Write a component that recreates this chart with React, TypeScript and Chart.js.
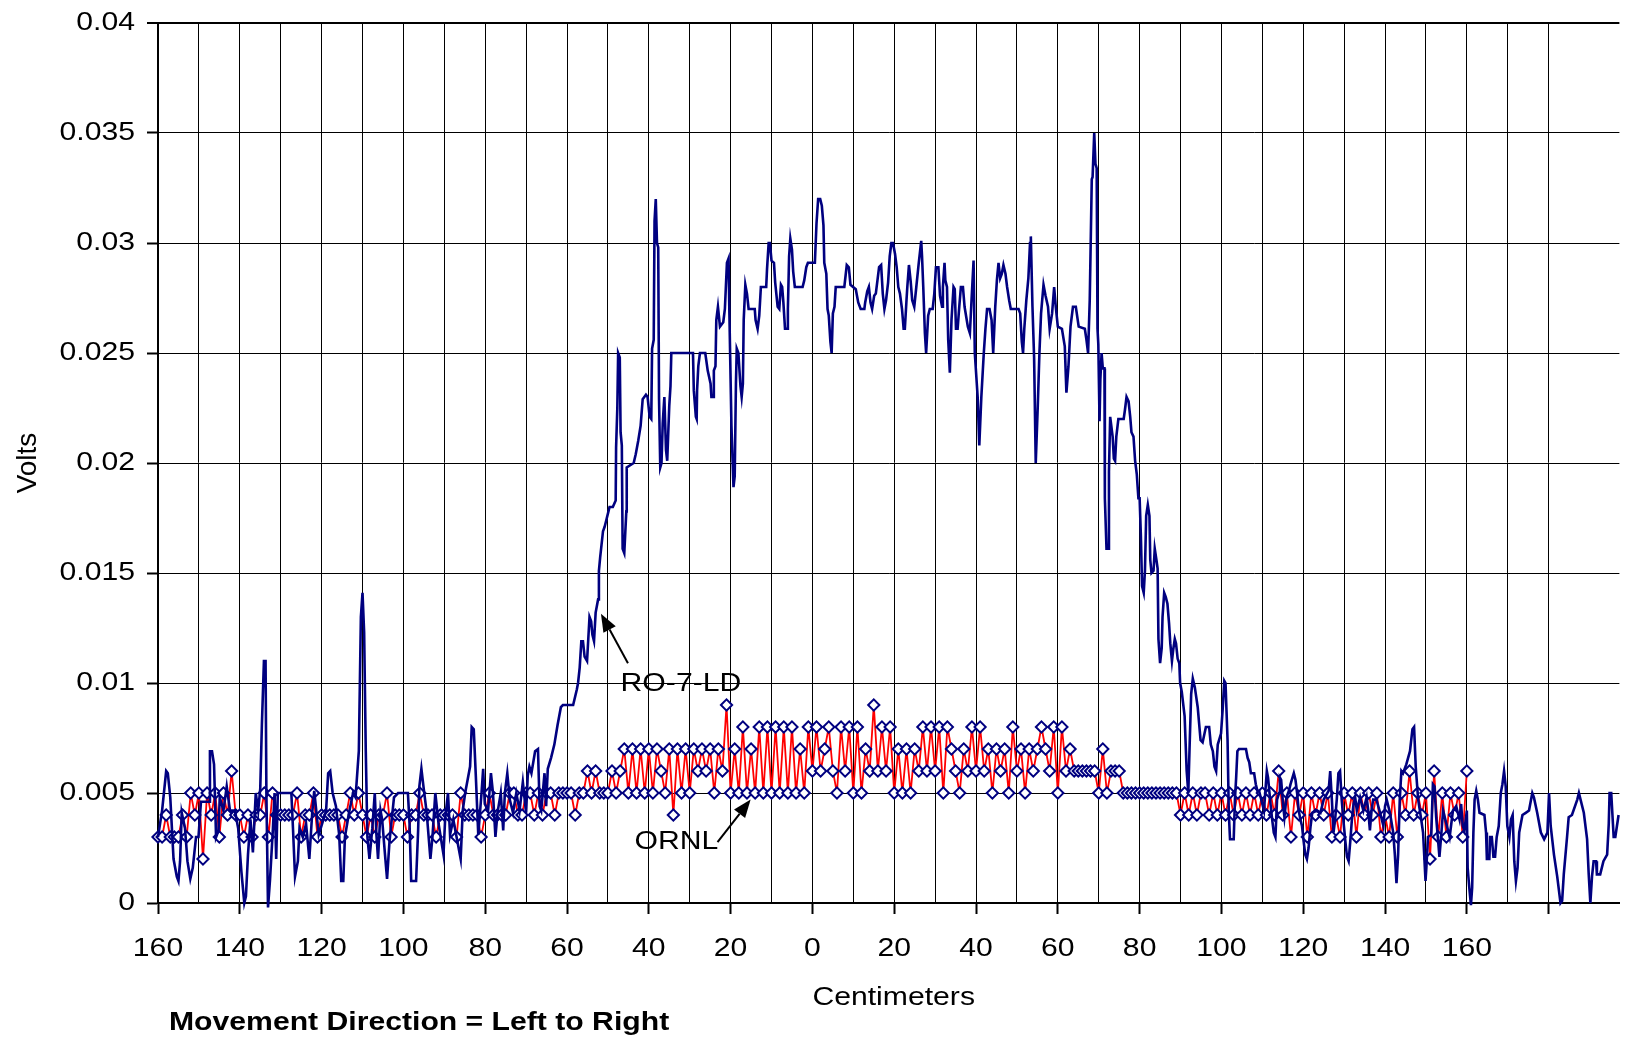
import { useEffect, useRef } from 'react';
import { Chart, registerables } from 'chart.js';

Chart.register(...registerables);

const FONT = '"Liberation Sans", Arial, Helvetica, sans-serif';
// the text in this figure is set slightly wide
const TEXT_STRETCH = 1.16;

// ORNL probe: one reading per centimetre, from -160 cm to +160 cm (values in mV)
const ornlStartCm = -160;
const ornlMv = [
  3, 3, 4, 3, 3, 3, 4, 3, 5, 4, 5, 2, 5, 4, 5, 3, 5, 4, 6, 4, // -160 .. -141
  4, 3, 4, 3, 4, 4, 5, 3, 5, 4, 4, 4, 4, 4, 5, 3, 4, 4, 5, 3, // -140 .. -121
  4, 4, 4, 4, 4, 3, 4, 5, 4, 5, 4, 3, 4, 3, 4, 4, 5, 3, 4, 4, // -120 .. -101
  4, 3, 4, 4, 5, 4, 4, 4, 3, 4, 4, 4, 4, 3, 5, 4, 4, 4, 4, 3, // -100 .. -81
  4, 5, 4, 4, 4, 4, 5, 5, 4, 4, 5, 5, 4, 5, 4, 5, 5, 4, 5, 5, // -80 .. -61
  5, 5, 4, 5, 5, 6, 5, 6, 5, 5, 5, 6, 5, 6, 7, 5, 7, 5, 7, 5, // -60 .. -41
  7, 5, 7, 6, 5, 7, 4, 7, 5, 7, 5, 7, 6, 7, 6, 7, 5, 7, 6, 9, // -40 .. -21
  5, 7, 5, 8, 5, 7, 5, 8, 5, 8, 5, 8, 5, 8, 5, 8, 5, 7, 5, 8, // -20 .. -1
  6, 8, 6, 7, 8, 6, 5, 8, 6, 8, 5, 8, 5, 7, 6, 9, 6, 8, 6, 8, // 0 .. 19
  5, 7, 5, 7, 5, 7, 6, 8, 6, 8, 6, 8, 5, 8, 7, 6, 5, 7, 6, 8, // 20 .. 39
  6, 8, 6, 7, 5, 7, 6, 7, 5, 8, 6, 7, 5, 7, 6, 7, 8, 7, 6, 8, // 40 .. 59
  5, 8, 6, 7, 6, 6, 6, 6, 6, 6, 5, 7, 5, 6, 6, 6, 5, 5, 5, 5, // 60 .. 79
  5, 5, 5, 5, 5, 5, 5, 5, 5, 5, 4, 5, 4, 5, 4, 5, 5, 4, 5, 4, // 80 .. 99
  5, 4, 5, 4, 5, 4, 5, 4, 5, 4, 5, 4, 5, 4, 6, 4, 5, 3, 5, 4, // 100 .. 119
  5, 3, 5, 4, 5, 4, 5, 3, 4, 3, 5, 4, 5, 3, 5, 4, 5, 4, 5, 3, // 120 .. 139
  4, 3, 5, 3, 5, 4, 6, 4, 5, 4, 5, 2, 6, 3, 5, 3, 5, 4, 5, 3, 6, // 140 .. 160
];

// RO-7-LD probe trace as [cm, mV] vertices
const ro7ldApproach: [number, number][] = [
  [-160.0, 3.0], [-159.0, 4.2], [-158.0, 6.0], [-157.6, 5.9], [-157.0, 4.8], [-156.2, 2.0], [-155.4, 1.2],
  [-155.0, 1.0], [-154.6, 1.9], [-154.2, 4.1], [-153.4, 3.4], [-152.8, 1.9], [-152.1, 1.1], [-151.5, 1.6],
  [-150.7, 3.0], [-150.1, 3.0], [-149.5, 4.6], [-147.4, 4.6], [-147.3, 6.9], [-146.8, 6.9], [-146.3, 6.3],
  [-145.8, 3.0], [-145.2, 3.3], [-144.9, 4.8], [-144.0, 4.2], [-143.2, 5.3], [-142.4, 4.2], [-141.2, 4.2],
  [-140.4, 3.4], [-139.6, 1.4], [-138.9, 0.0], [-138.5, 0.3], [-138.0, 2.2], [-137.4, 3.8], [-136.8, 2.3],
  [-136.1, 5.0], [-135.5, 4.2], [-135.0, 5.2], [-134.6, 8.1], [-134.1, 11.0], [-133.7, 11.0], [-133.5, 5.0],
  [-133.1, -0.2], [-132.6, 1.1], [-131.9, 3.4], [-131.5, 5.0], [-131.1, 2.0], [-130.7, 5.0], [-127.4, 5.0],
  [-127.0, 3.4], [-126.5, 1.2], [-125.8, 1.9], [-125.4, 3.4], [-124.6, 3.0], [-123.8, 3.6], [-123.0, 2.0],
  [-122.3, 4.1], [-121.8, 5.1], [-120.7, 3.1], [-120.2, 3.4], [-118.9, 4.2], [-118.4, 5.9], [-117.9, 6.0],
  [-117.3, 5.0], [-116.5, 4.4], [-115.7, 3.1], [-115.2, 1.0], [-114.7, 1.0], [-114.3, 3.0], [-113.3, 4.1],
  [-112.3, 5.0], [-111.7, 4.8], [-110.9, 6.9], [-110.4, 13.0], [-110.0, 14.1], [-109.6, 12.3], [-109.2, 6.9],
  [-108.8, 3.0], [-108.3, 2.0], [-107.6, 3.4], [-107.0, 5.0], [-106.6, 3.1], [-106.2, 2.0], [-105.6, 4.2],
  [-105.2, 3.8], [-104.5, 2.2], [-104.0, 1.1], [-103.4, 2.8], [-102.3, 4.8], [-101.3, 5.0], [-98.9, 5.0],
  [-98.5, 3.6], [-98.1, 1.0], [-96.9, 1.0], [-96.4, 3.3], [-96.1, 5.3], [-95.6, 6.1], [-95.1, 5.3],
  [-94.3, 4.1], [-93.4, 2.0], [-92.9, 3.0], [-92.2, 5.0], [-91.4, 3.6], [-90.2, 2.2], [-89.8, 3.8],
  [-89.1, 5.0], [-88.6, 3.1], [-87.8, 3.8], [-87.0, 3.0], [-86.0, 2.0], [-85.5, 4.2], [-84.9, 5.0],
  [-83.7, 6.2], [-83.3, 8.0], [-82.8, 7.9], [-82.3, 5.8], [-81.7, 3.1], [-80.9, 5.0], [-80.5, 6.1],
  [-80.1, 4.5], [-79.3, 4.2], [-78.6, 5.9], [-78.1, 5.0], [-77.5, 3.0], [-77.0, 4.1], [-76.2, 5.0],
  [-75.6, 3.3], [-75.2, 5.0], [-74.6, 5.9], [-74.0, 4.7], [-73.2, 4.1], [-72.4, 5.0], [-71.6, 4.2],
  [-70.8, 5.5], [-70.0, 4.1], [-69.6, 5.8], [-69.2, 6.2], [-68.7, 5.9], [-67.8, 6.9], [-67.1, 7.0],
  [-66.7, 4.4], [-66.3, 4.2], [-65.5, 5.9], [-65.1, 4.4], [-64.7, 6.1], [-63.9, 6.6], [-63.1, 7.2],
  [-62.3, 8.1], [-61.5, 8.9], [-61.0, 9.0], [-58.5, 9.0], [-57.6, 9.7], [-57.3, 10.0], [-56.9, 10.7],
  [-56.5, 11.9], [-56.1, 11.9], [-55.7, 11.2], [-55.1, 11.0], [-54.8, 12.0], [-54.5, 13.0], [-54.1, 12.8],
  [-53.8, 12.2], [-53.4, 11.9], [-53.0, 13.2], [-52.4, 13.8], [-52.2, 15.1], [-51.9, 15.7], [-51.2, 16.9],
  [-50.8, 17.1], [-50.4, 17.4], [-50.0, 17.7], [-49.6, 18.0], [-48.8, 18.0], [-48.1, 18.3], [-48.0, 20.7],
  [-47.7, 22.5], [-47.5, 25.0], [-47.1, 24.8], [-46.9, 21.4], [-46.6, 20.8], [-46.4, 16.1], [-46.0, 15.9],
  [-45.5, 17.8], [-45.4, 19.8],
];

const ro7ldPlateau: [number, number][] = [
  [-43.7, 20.0], [-43.2, 20.4], [-42.6, 21.0], [-42.0, 21.7], [-41.5, 22.9], [-40.7, 23.1], [-40.3, 23.0],
  [-39.8, 22.1], [-39.4, 22.0], [-39.2, 25.2], [-38.8, 25.6], [-38.6, 31.0], [-38.3, 32.0], [-38.0, 30.0],
  [-37.7, 29.8], [-37.5, 22.9], [-37.2, 19.8], [-36.9, 20.0], [-36.6, 21.8], [-36.2, 23.0], [-35.8, 20.6],
  [-35.5, 20.1], [-35.0, 22.6], [-34.7, 23.5], [-34.5, 25.0], [-29.2, 25.0], [-29.0, 23.3], [-28.5, 22.1],
  [-28.3, 22.0], [-28.2, 23.3], [-27.9, 24.4], [-27.5, 25.0], [-26.2, 25.0], [-25.6, 24.2], [-24.9, 23.6],
  [-24.7, 23.0], [-24.3, 23.0], [-24.1, 24.2], [-23.7, 24.4], [-23.5, 26.5], [-23.1, 27.1], [-22.6, 26.2],
  [-21.8, 26.4], [-21.4, 27.0], [-20.9, 29.1], [-20.5, 29.3], [-20.3, 26.8], [-19.8, 21.7], [-19.3, 18.9],
  [-19.0, 19.4], [-18.7, 23.6], [-18.5, 25.2], [-18.1, 25.0], [-17.6, 23.5], [-17.3, 23.0], [-17.0, 23.6],
  [-16.8, 26.5], [-16.4, 28.1], [-16.0, 27.7], [-15.6, 27.0], [-14.1, 27.0], [-13.9, 26.5], [-13.4, 26.1],
  [-13.0, 26.7], [-12.6, 28.0], [-11.3, 28.0], [-11.1, 28.8], [-10.7, 30.0], [-10.4, 30.0], [-10.0, 29.2],
  [-9.4, 29.1], [-9.1, 28.2], [-8.5, 27.1], [-8.1, 27.0], [-7.7, 28.1], [-7.4, 28.0], [-7.1, 27.3],
  [-6.7, 26.1], [-6.2, 26.1], [-6.0, 27.0], [-5.7, 29.4], [-5.4, 30.2], [-5.0, 29.7], [-4.7, 28.7],
  [-4.3, 28.0], [-2.4, 28.0], [-2.0, 28.3], [-1.5, 28.9], [-1.1, 29.1], [0.6, 29.1], [1.0, 30.9],
  [1.4, 32.0], [1.9, 32.0], [2.3, 31.7], [2.7, 30.8], [2.9, 29.1], [3.4, 28.6], [3.7, 27.0], [4.0, 26.7],
  [4.4, 25.5], [4.7, 25.0], [5.0, 26.8], [5.4, 27.1], [5.7, 28.0], [7.8, 28.0], [8.1, 28.5], [8.4, 29.0],
  [8.9, 28.9], [9.3, 28.1], [10.6, 27.9], [11.2, 27.3], [11.8, 27.0], [12.7, 27.0], [12.9, 27.3],
  [13.4, 27.8], [13.8, 28.0], [14.2, 27.3], [14.6, 27.0], [15.1, 27.6], [15.5, 27.7], [15.9, 28.3],
  [16.3, 28.9], [16.8, 29.0], [17.2, 27.7], [17.6, 27.0], [18.0, 27.4], [18.5, 28.2], [18.9, 29.4],
  [19.3, 30.0], [19.7, 30.0], [20.2, 29.5], [20.6, 28.9], [21.0, 28.0], [21.4, 27.7], [21.9, 27.0],
  [22.3, 26.1], [22.6, 26.1], [23.0, 27.4], [23.2, 28.0], [23.6, 29.0], [24.0, 28.3], [24.4, 27.4],
  [24.9, 27.1], [25.4, 28.0], [26.0, 29.1], [26.6, 30.1], [26.8, 29.4], [27.1, 28.0], [27.5, 25.9],
  [27.8, 25.0], [28.3, 26.7], [28.7, 27.0], [29.4, 27.0], [29.8, 27.7], [30.2, 28.9], [30.8, 28.9],
  [31.2, 27.6], [31.7, 27.1], [31.9, 28.0], [32.3, 29.1], [32.5, 28.3], [32.9, 28.0], [33.2, 25.6],
  [33.6, 24.1], [34.0, 26.5], [34.5, 28.0], [34.8, 27.9], [35.1, 26.1], [35.5, 26.1], [35.9, 27.1],
  [36.3, 28.0], [36.8, 28.0], [37.2, 27.1], [38.0, 26.2], [38.5, 25.9], [38.9, 27.4], [39.4, 29.2],
  [39.7, 25.0], [40.4, 23.0], [40.8, 20.8], [41.3, 23.0], [41.9, 25.0], [42.3, 26.1], [42.7, 27.0],
  [43.3, 27.0], [43.8, 26.5], [44.2, 25.0], [44.7, 27.1], [45.1, 28.3], [45.5, 29.1], [45.9, 28.4],
  [46.3, 28.6], [46.7, 29.0], [47.2, 28.6], [47.6, 28.0], [48.1, 27.4], [48.5, 27.0], [50.4, 27.0],
  [50.8, 26.8], [51.2, 25.5], [51.5, 25.0], [51.8, 26.1], [52.3, 27.4], [52.8, 28.4], [53.2, 30.0],
  [53.4, 30.3], [53.8, 27.1], [54.2, 24.8], [54.6, 20.0], [55.1, 22.6], [55.5, 25.0], [55.9, 26.8],
  [56.5, 28.1], [57.0, 27.6], [57.6, 27.1], [58.0, 26.1], [58.6, 26.8], [59.1, 28.0], [59.5, 27.1],
  [60.0, 26.2], [61.0, 26.1], [61.7, 25.3], [62.1, 23.2], [62.6, 24.4], [63.1, 26.2], [63.7, 27.1],
  [64.4, 27.1], [65.1, 26.2], [66.6, 26.1], [67.0, 25.6], [67.4, 25.0], [67.8, 27.4], [68.3, 32.9],
  [68.5, 33.0], [68.9, 35.0], [69.2, 33.6], [69.5, 33.4], [69.7, 26.1],
];

const ro7ldDeparture: [number, number][] = [
  [69.9, 25.4], [70.2, 21.9], [70.4, 23.8], [70.7, 25.0], [71.0, 24.3], [71.4, 24.3], [71.5, 18.4],
  [71.9, 16.1], [72.4, 16.1], [72.5, 19.6], [72.8, 22.1], [73.0, 22.1], [73.4, 21.2], [73.7, 20.2],
  [74.0, 20.1], [74.3, 21.2], [74.8, 22.0], [76.1, 22.0], [76.4, 22.4], [76.8, 23.0], [77.3, 22.8],
  [77.7, 22.1], [78.0, 21.4], [78.5, 21.2], [78.9, 20.1], [79.3, 19.5], [79.7, 18.4], [80.0, 18.4],
  [80.3, 16.7], [80.6, 14.4], [81.0, 14.1], [81.3, 15.1], [81.6, 17.6], [82.0, 18.1], [82.4, 17.6],
  [82.6, 15.6], [82.9, 15.0], [83.4, 15.1], [83.7, 16.1], [84.1, 15.6], [84.4, 15.2], [84.6, 12.0],
  [85.0, 10.9], [85.4, 11.6], [85.6, 13.0], [86.0, 14.1], [86.4, 13.9], [86.8, 13.6], [87.2, 12.7],
  [87.5, 11.8], [87.9, 11.0], [88.2, 11.5], [88.6, 12.0], [88.9, 11.8], [89.3, 11.1], [89.7, 10.9],
  [89.9, 10.0], [90.3, 9.6], [91.0, 8.5], [91.5, 6.0], [91.9, 5.0], [92.2, 7.0], [92.6, 9.5],
  [93.0, 10.2], [93.5, 9.8], [94.2, 8.9], [94.9, 7.4], [95.4, 7.3], [96.2, 8.0], [97.0, 8.0],
  [97.4, 7.2], [97.9, 6.9], [98.3, 6.2], [98.7, 6.0], [99.1, 7.2], [99.9, 7.7], [100.3, 8.8],
  [100.7, 10.1], [101.0, 10.0], [101.5, 7.4], [101.8, 4.1], [102.1, 2.9], [103.0, 2.9], [103.3, 4.7],
  [103.6, 5.7], [103.9, 6.9], [104.3, 7.0], [106.0, 7.0], [106.4, 6.6], [106.8, 6.4], [107.2, 5.9],
  [108.0, 5.9], [108.4, 5.4], [108.8, 5.1], [109.2, 5.1], [110.0, 4.5], [110.4, 4.2], [111.1, 6.0],
  [111.4, 5.7], [112.0, 4.5], [112.4, 3.8], [112.8, 3.2], [113.2, 3.0], [113.6, 4.7], [114.1, 5.0],
  [114.3, 5.7], [114.6, 5.6], [115.1, 4.4], [115.4, 3.9], [115.9, 4.8], [116.5, 5.1], [116.9, 5.4],
  [117.7, 5.9], [118.1, 5.6], [118.5, 5.0], [118.9, 4.2], [119.3, 3.8], [119.7, 3.5], [120.1, 2.8],
  [120.5, 2.2], [120.9, 2.0], [121.3, 2.5], [121.8, 3.5], [122.2, 4.1], [123.4, 4.2], [124.2, 4.1],
  [125.0, 4.7], [126.2, 5.1], [126.6, 6.0], [127.0, 4.7], [127.4, 3.2], [127.8, 3.8], [128.2, 4.7],
  [128.6, 5.9], [129.0, 6.0], [129.4, 4.7], [129.9, 3.6], [130.3, 2.8], [130.7, 2.1], [131.1, 1.9],
  [131.5, 2.8], [131.9, 3.8], [132.3, 4.5], [132.7, 4.8], [133.1, 4.2], [133.9, 4.8], [134.7, 4.2],
  [135.5, 4.8], [135.9, 4.2], [136.3, 3.3], [136.7, 4.2], [137.1, 4.7], [137.9, 4.7], [138.8, 4.1],
  [139.6, 3.5], [140.0, 4.4], [140.4, 4.7], [141.2, 4.1], [142.0, 3.2], [142.4, 2.2], [142.8, 0.9],
  [143.2, 2.2], [143.6, 4.7], [144.0, 6.0], [144.4, 5.9], [145.2, 6.3], [146.1, 6.9], [146.7, 7.9],
  [147.1, 8.0], [147.5, 6.2], [148.1, 4.7], [148.6, 4.1], [149.3, 3.2], [149.9, 1.0], [150.1, 1.6],
  [150.5, 3.0], [151.3, 3.1], [151.7, 5.4], [152.1, 5.3], [152.5, 3.9], [152.9, 3.0], [153.3, 2.1],
  [153.7, 3.0], [154.2, 4.2], [155.0, 3.6], [155.8, 3.0], [156.6, 4.2], [157.4, 4.4], [158.2, 3.8],
  [158.6, 4.5], [159.0, 3.5], [159.4, 3.3], [160.0, 4.2], [160.2, 1.6], [160.6, 0.7], [161.0, -0.1],
  [161.3, 0.7], [161.6, 3.2], [161.9, 4.7], [162.3, 5.1], [162.7, 4.7], [163.1, 4.1], [164.3, 4.0],
  [164.7, 3.2], [164.9, 2.0], [165.5, 2.0], [165.7, 3.0], [166.1, 3.0], [166.5, 2.1], [166.9, 2.1],
  [167.3, 3.0], [167.8, 3.5], [168.3, 5.0], [168.7, 5.4], [169.1, 6.0], [169.5, 5.3], [169.9, 3.5],
  [170.4, 3.0], [170.8, 3.8], [171.2, 4.0], [171.6, 1.9], [172.0, 1.0], [172.4, 1.6], [172.8, 3.2],
  [173.2, 3.6], [173.6, 4.0], [174.4, 4.1], [175.2, 4.2], [176.0, 5.0], [176.4, 4.8], [177.2, 4.1],
  [178.1, 3.2], [178.9, 2.9], [179.7, 3.2], [180.1, 5.0], [180.5, 3.5], [181.3, 2.2], [182.1, 1.2],
  [182.9, 0.0], [183.3, 0.1], [183.7, 1.3], [184.5, 3.0], [184.9, 3.9], [185.7, 4.0], [187.0, 4.7],
  [187.4, 5.0], [187.8, 4.7], [188.6, 4.1], [189.4, 2.9], [189.8, 1.3], [190.2, 0.0], [190.6, 1.2],
  [191.0, 1.9], [191.6, 1.9], [191.8, 1.3], [192.6, 1.3], [193.4, 1.9], [194.3, 2.2], [194.7, 3.6],
  [194.9, 5.0], [195.3, 5.0], [195.9, 3.0], [196.3, 3.0], [197.1, 4.0],
];

// Callouts naming each trace: label position plus an arrow pointing at the curve (cm, mV)
const callouts = [
  { text: 'RO-7-LD', align: 'left', textCm: -46.9, textMv: 9.95, tailCm: -45.1, tailMv: 10.9, tipCm: -51.7, tipMv: 13.15 },
  { text: 'ORNL', align: 'right', textCm: -23.0, textMv: 2.78, tailCm: -23.2, tailMv: 2.77, tipCm: -15.1, tipMv: 4.7 },
];

const xAxisTitle = 'Centimeters';
const caption = 'Movement Direction = Left to Right';

// distance either side of the centre line is shown unsigned: 160 … 0 … 160
const xTickLabel = (v: number) => (v % 20 === 0 && Math.abs(v) <= 160 ? String(Math.abs(v)) : '');
const yTickLabel = (v: number) => String(Number(Number(v).toFixed(3)));

function drawWideText(ctx: CanvasRenderingContext2D, text: string, x: number, y: number, align: CanvasTextAlign, font: string) {
  ctx.save();
  ctx.translate(x, y);
  ctx.scale(TEXT_STRETCH, 1);
  ctx.font = font;
  ctx.textAlign = align;
  ctx.textBaseline = 'middle';
  ctx.fillStyle = '#000';
  ctx.fillText(text, 0, 0);
  ctx.restore();
}

const textPlugin = {
  id: 'figureText',
  afterDatasetsDraw(chart: any) {
    const { ctx, chartArea } = chart;
    const xs = chart.scales.x;
    const ys = chart.scales.y;
    const tickFont = `26px ${FONT}`;

    // axis tick labels
    for (const t of ys.ticks) {
      drawWideText(ctx, yTickLabel(t.value), chartArea.left - 23, ys.getPixelForValue(t.value), 'right', tickFont);
    }
    for (const t of xs.ticks) {
      const label = xTickLabel(t.value);
      if (label) drawWideText(ctx, label, xs.getPixelForValue(t.value), chartArea.bottom + 45.5, 'center', tickFont);
    }
    drawWideText(ctx, xAxisTitle, (chartArea.left + chartArea.right) / 2 + 5, chartArea.bottom + 95, 'center', tickFont);

    // callout arrows and names
    ctx.save();
    ctx.fillStyle = '#000';
    ctx.strokeStyle = '#000';
    for (const c of callouts) {
      const tx = xs.getPixelForValue(c.tailCm);
      const ty = ys.getPixelForValue(c.tailMv / 1000);
      const hx = xs.getPixelForValue(c.tipCm);
      const hy = ys.getPixelForValue(c.tipMv / 1000);
      const ang = Math.atan2(hy - ty, hx - tx);
      const headLen = 18;
      const headHalf = 7;
      const bx = hx - headLen * Math.cos(ang);
      const by = hy - headLen * Math.sin(ang);
      ctx.lineWidth = 2;
      ctx.beginPath();
      ctx.moveTo(tx, ty);
      ctx.lineTo(bx, by);
      ctx.stroke();
      ctx.beginPath();
      ctx.moveTo(hx, hy);
      ctx.lineTo(bx + headHalf * Math.sin(ang), by - headHalf * Math.cos(ang));
      ctx.lineTo(bx - headHalf * Math.sin(ang), by + headHalf * Math.cos(ang));
      ctx.closePath();
      ctx.fill();
    }
    ctx.restore();
    for (const c of callouts) {
      drawWideText(ctx, c.text, xs.getPixelForValue(c.textCm), ys.getPixelForValue(c.textMv / 1000), c.align as CanvasTextAlign, tickFont);
    }

    drawWideText(ctx, caption, chartArea.left + 11, chartArea.bottom + 120, 'left', `bold 26px ${FONT}`);
  },
};

export default function App() {
  const canvasRef = useRef<HTMLCanvasElement>(null);

  useEffect(() => {
    const canvas = canvasRef.current;
    if (!canvas) return;
    const trace = [...ro7ldApproach, ...ro7ldPlateau, ...ro7ldDeparture];
    const chart = new Chart(canvas, {
      type: 'line',
      data: {
        datasets: [
          {
            label: 'RO-7-LD',
            data: trace.map(([cm, mv]) => ({ x: cm, y: mv / 1000 })),
            borderColor: '#000080',
            borderWidth: 2.6,
            pointRadius: 0,
            tension: 0,
            clip: false,
            order: 0,
          },
          {
            label: 'ORNL',
            data: ornlMv.map((mv, i) => ({ x: ornlStartCm + i, y: mv / 1000 })),
            borderColor: '#ff0000',
            borderWidth: 1.8,
            pointStyle: 'rectRot',
            pointRadius: 5.6,
            pointBorderColor: '#000080',
            pointBackgroundColor: '#ffffff',
            pointBorderWidth: 2,
            tension: 0,
            clip: false,
            order: 1,
          },
        ],
      },
      options: {
        responsive: false,
        animation: false,
        devicePixelRatio: 1,
        layout: { padding: { top: 23, left: 0, right: 0, bottom: 0 } },
        plugins: {
          legend: { display: false },
          tooltip: { enabled: false },
        },
        scales: {
          x: {
            type: 'linear',
            min: -160,
            max: 197.3,
            afterBuildTicks: (scale: any) => {
              scale.ticks = scale.ticks.filter((t: any) => Math.abs(t.value % 10) < 1e-6);
            },
            afterFit: (scale: any) => {
              scale.height = 138;
            },
            ticks: { stepSize: 10, autoSkip: false, maxRotation: 0, display: false },
            grid: {
              color: '#000',
              lineWidth: 1,
              tickLength: 11,
              tickWidth: 2,
              tickColor: (ctx: any) =>
                ctx.tick && Math.round(ctx.tick.value) % 20 === 0 ? '#000' : 'rgba(0,0,0,0)',
            },
            border: { color: '#000', width: 2 },
          },
          y: {
            min: 0,
            max: 0.04,
            afterFit: (scale: any) => {
              scale.width = 158;
            },
            ticks: { stepSize: 0.005, display: false },
            grid: {
              color: '#000',
              lineWidth: (ctx: any) => (ctx.tick && ctx.tick.value > 0.0399 ? 2 : 1),
              tickLength: 11,
              tickWidth: 2,
              tickColor: '#000',
            },
            border: { color: '#000', width: 2 },
            title: {
              display: true,
              text: 'Volts',
              color: '#000',
              font: { family: FONT, size: 28 },
              padding: { top: 11, bottom: 0 },
            },
          },
        },
      },
      plugins: [textPlugin],
    } as any);
    return () => chart.destroy();
  }, []);

  return (
    <div style={{ position: 'absolute', left: 0, top: 0, width: 1627, height: 1041, background: '#fff' }}>
      <canvas ref={canvasRef} width={1627} height={1041} style={{ display: 'block' }} />
    </div>
  );
}
